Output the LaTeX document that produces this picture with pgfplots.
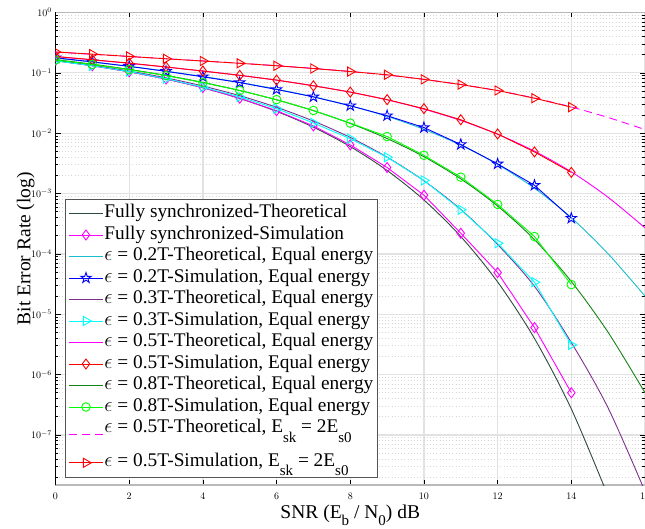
\documentclass[border=0pt]{standalone}
\usepackage{fontspec}
\setmainfont{Liberation Serif}
\usepackage{pgfplots}
\pgfplotsset{compat=1.18}
\newcommand\sub[1]{\raisebox{-0.5em}{\fontsize{15}{15}\selectfont #1}}
\newcommand\xsub[1]{\raisebox{-0.33em}{\fontsize{15}{15}\selectfont #1}}
\pgfdeclareplotmark{pentagram}{%
 \pgfpathmoveto{\pgfpointpolar{90}{\pgfplotmarksize}}%
 \pgfpathlineto{\pgfpointpolar{126}{0.382\pgfplotmarksize}}%
 \pgfpathlineto{\pgfpointpolar{162}{\pgfplotmarksize}}%
 \pgfpathlineto{\pgfpointpolar{198}{0.382\pgfplotmarksize}}%
 \pgfpathlineto{\pgfpointpolar{234}{\pgfplotmarksize}}%
 \pgfpathlineto{\pgfpointpolar{270}{0.382\pgfplotmarksize}}%
 \pgfpathlineto{\pgfpointpolar{306}{\pgfplotmarksize}}%
 \pgfpathlineto{\pgfpointpolar{342}{0.382\pgfplotmarksize}}%
 \pgfpathlineto{\pgfpointpolar{18}{\pgfplotmarksize}}%
 \pgfpathlineto{\pgfpointpolar{54}{0.382\pgfplotmarksize}}%
 \pgfpathclose
 \pgfusepathqstroke}
\definecolor{fsync}{RGB}{45,75,60}
\definecolor{teal2}{RGB}{25,190,205}
\definecolor{purp}{RGB}{126,47,142}
\definecolor{dgreen}{RGB}{20,130,20}
\definecolor{mag}{RGB}{255,0,255}
\definecolor{cyn}{RGB}{0,255,255}
\definecolor{grn}{RGB}{0,255,0}
\definecolor{rd}{RGB}{255,0,0}
\definecolor{bl}{RGB}{0,0,255}
\definecolor{lgrid}{RGB}{226,226,226}
\definecolor{mgrid}{RGB}{214,214,214}
\definecolor{legedge}{RGB}{85,85,85}
\begin{document}
\begin{tikzpicture}
\begin{axis}[
 name=ax,
 scale only axis, width=589.5pt, height=472.5pt,
 ymode=log, xmin=0, xmax=16, ymin=1.48e-8, ymax=1,
 xtick={0,2,4,6,8,10,12,14,16},
 ytick={1e-7,1e-6,1e-5,1e-4,1e-3,1e-2,1e-1,1},
 minor ytick={2e-8,3e-8,4e-8,5e-8,6e-8,7e-8,8e-8,9e-8,
  2e-7,3e-7,4e-7,5e-7,6e-7,7e-7,8e-7,9e-7,
  2e-6,3e-6,4e-6,5e-6,6e-6,7e-6,8e-6,9e-6,
  2e-5,3e-5,4e-5,5e-5,6e-5,7e-5,8e-5,9e-5,
  2e-4,3e-4,4e-4,5e-4,6e-4,7e-4,8e-4,9e-4,
  2e-3,3e-3,4e-3,5e-3,6e-3,7e-3,8e-3,9e-3,
  2e-2,3e-2,4e-2,5e-2,6e-2,7e-2,8e-2,9e-2,
  0.2,0.3,0.4,0.5,0.6,0.7,0.8,0.9},
 grid=major, yminorgrids=true,
 major grid style={draw=lgrid, line width=1.3pt},
 minor grid style={draw=mgrid, line width=0.6pt, dash pattern=on 0.6pt off 2.6pt},
 tick align=inside, major tick length=5pt, minor tick length=3pt,
 tick style={black, line width=0.6pt},
 separate axis lines,
 x axis line style={draw=gray!55, line width=1.5pt},
 y axis line style={draw=black, line width=0.8pt},
 tick label style={font=\fontsize{10}{12}\selectfont},
 xticklabel style={yshift=-4.3pt},
 xlabel={SNR (E\xsub{b} / N\xsub{0}) dB},
 ylabel={Bit Error Rate (log)},
 every axis x label/.style={at={(axis description cs:0.5,0)}, anchor=north, yshift=-16.5pt, font=\fontsize{19.5}{22}\selectfont},
 every axis y label/.style={at={(axis description cs:-0.0297,0.5)}, anchor=south, rotate=90, font=\fontsize{19.5}{22}\selectfont},
 clip marker paths=true,
 every axis plot/.append style={line width=0.9pt},
 legend cell align=left,
 legend image code/.code={\draw[mark repeat=2,mark phase=2,#1] plot coordinates {(0pt,0pt) (17pt,0pt) (34pt,0pt)};},
 legend style={at={(axis description cs:0.0161,0.0148)}, anchor=south west,
   draw=legedge, line width=1.1pt, fill=white, inner xsep=3pt, inner ysep=3pt,
   row sep=0pt, font=\fontsize{19.3}{21}\selectfont,
   nodes={inner xsep=1pt, inner ysep=2pt, text height=13pt, text depth=4.5pt}},
]
% Fully synchronized - theoretical
\addplot[fsync, smooth] coordinates {(0,0.1587) (1,0.1310) (2,0.1039) (3,0.0789) (4,0.0565) (5,0.0376) (6,0.0230) (7,0.01257) (8,0.00600) (9,0.00241) (10,7.82e-4) (11,1.94e-4) (12,3.43e-5) (13,3.97e-6) (14,2.70e-7) (15,9.6e-9)};
\addlegendentry{Fully synchronized-Theoretical}
\addplot[mag, mark=diamond, mark size=5pt] coordinates {(0,0.160) (1,0.131) (2,0.104) (3,0.079) (4,0.0570) (5,0.0380) (6,0.0236) (7,0.0132) (8,0.0064) (9,0.0027) (10,9.4e-4) (11,2.2e-4) (12,4.9e-5) (13,6.0e-6) (14,5.0e-7)};
\addlegendentry{Fully synchronized-Simulation}
% 0.2T
\addplot[teal2, smooth] coordinates {(0,0.1748) (1,0.1510) (2,0.1281) (3,0.1066) (4,0.0870) (5,0.0694) (6,0.0537) (7,0.0401) (8,0.0285) (9,0.0190) (10,0.01159) (11,0.00634) (12,0.003035) (13,0.001225) (14,3.98e-4) (15,1.0e-4) (16,2.0e-5)};
\addlegendentry{$\epsilon$ = 0.2T-Theoretical, Equal energy}
\addplot[bl, mark=pentagram, mark size=5.5pt] coordinates {(0,0.178) (1,0.152) (2,0.128) (3,0.106) (4,0.086) (5,0.069) (6,0.053) (7,0.040) (8,0.0285) (9,0.0195) (10,0.0124) (11,0.0065) (12,0.0031) (13,0.00137) (14,3.9e-4)};
\addlegendentry{$\epsilon$ = 0.2T-Simulation, Equal energy}
% 0.3T
\addplot[purp, smooth] coordinates {(0,0.1607) (1,0.1336) (2,0.1073) (3,0.0826) (4,0.0605) (5,0.0418) (6,0.0269) (7,0.0159) (8,0.00850) (9,0.00401) (10,0.00163) (11,5.45e-4) (12,1.43e-4) (13,2.9e-5) (14,3.4e-6) (15,2.79e-7) (16,1.16e-8)};
\addlegendentry{$\epsilon$ = 0.3T-Theoretical, Equal energy}
\addplot[cyn, mark=triangle, mark size=5.3pt, mark options={rotate=-90}] coordinates {(0,0.158) (1,0.131) (2,0.105) (3,0.080) (4,0.058) (5,0.040) (6,0.0255) (7,0.0148) (8,0.0081) (9,0.0040) (10,1.65e-3) (11,5.4e-4) (12,1.5e-4) (13,3.4e-5) (14,3.1e-6)};
\addlegendentry{$\epsilon$ = 0.3T-Simulation, Equal energy}
% 0.5T
\addplot[mag, smooth] coordinates {(0,0.1854) (1,0.1641) (2,0.1437) (3,0.1247) (4,0.1071) (5,0.0909) (6,0.0756) (7,0.0613) (8,0.0479) (9,0.0357) (10,0.0250) (11,0.01625) (12,0.00960) (13,0.00504) (14,0.00229) (15,8.65e-4) (16,2.7e-4)};
\addlegendentry{$\epsilon$ = 0.5T-Theoretical, Equal energy}
\addplot[rd, mark=diamond, mark size=5pt] coordinates {(0,0.187) (1,0.165) (2,0.145) (3,0.125) (4,0.107) (5,0.091) (6,0.076) (7,0.061) (8,0.048) (9,0.036) (10,0.0255) (11,0.0167) (12,0.0097) (13,0.0049) (14,0.00224)};
\addlegendentry{$\epsilon$ = 0.5T-Simulation, Equal energy}
% 0.8T
\addplot[dgreen, smooth] coordinates {(0,0.1655) (1,0.1394) (2,0.1142) (3,0.0907) (4,0.0694) (5,0.0510) (6,0.0357) (7,0.0236) (8,0.01451) (9,0.00816) (10,0.00408) (11,0.00175) (12,6.2e-4) (13,1.72e-4) (14,3.49e-5) (15,5.0e-6) (16,5.0e-7)};
\addlegendentry{$\epsilon$ = 0.8T-Theoretical, Equal energy}
\addplot[grn, mark=o, mark size=4.3pt] coordinates {(0,0.163) (1,0.138) (2,0.113) (3,0.090) (4,0.069) (5,0.051) (6,0.036) (7,0.0238) (8,0.0147) (9,0.0088) (10,0.0043) (11,0.00187) (12,6.6e-4) (13,1.94e-4) (14,3.1e-5)};
\addlegendentry{$\epsilon$ = 0.8T-Simulation, Equal energy}
% 0.5T, Esk = 2Es0
\addplot[mag, smooth, dash pattern=on 8pt off 5pt] coordinates {(0,0.2206) (1,0.2029) (2,0.1866) (3,0.1712) (4,0.1573) (5,0.1442) (6,0.1314) (7,0.1186) (8,0.1055) (9,0.0918) (10,0.0779) (11,0.0640) (12,0.0507) (13,0.0382) (14,0.0272) (15,0.0182) (16,0.0115)};
\addlegendentry[text depth=16.4pt]{$\epsilon$ = 0.5T-Theoretical, E\sub{sk} = 2E\sub{s0}}
\addplot[rd, mark=triangle, mark size=5.3pt, mark options={rotate=-90}] coordinates {(0,0.222) (1,0.204) (2,0.187) (3,0.171) (4,0.157) (5,0.144) (6,0.131) (7,0.118) (8,0.105) (9,0.093) (10,0.078) (11,0.064) (12,0.051) (13,0.038) (14,0.027)};
\addlegendentry[text depth=6.3pt]{$\epsilon$ = 0.5T-Simulation, E\sub{sk} = 2E\sub{s0}}
\end{axis}
\pgfresetboundingbox
\path[use as bounding box] ([xshift=-55.5pt,yshift=-44pt]ax.south west) rectangle ([yshift=12.5pt]ax.north east);
\end{tikzpicture}
\end{document}
